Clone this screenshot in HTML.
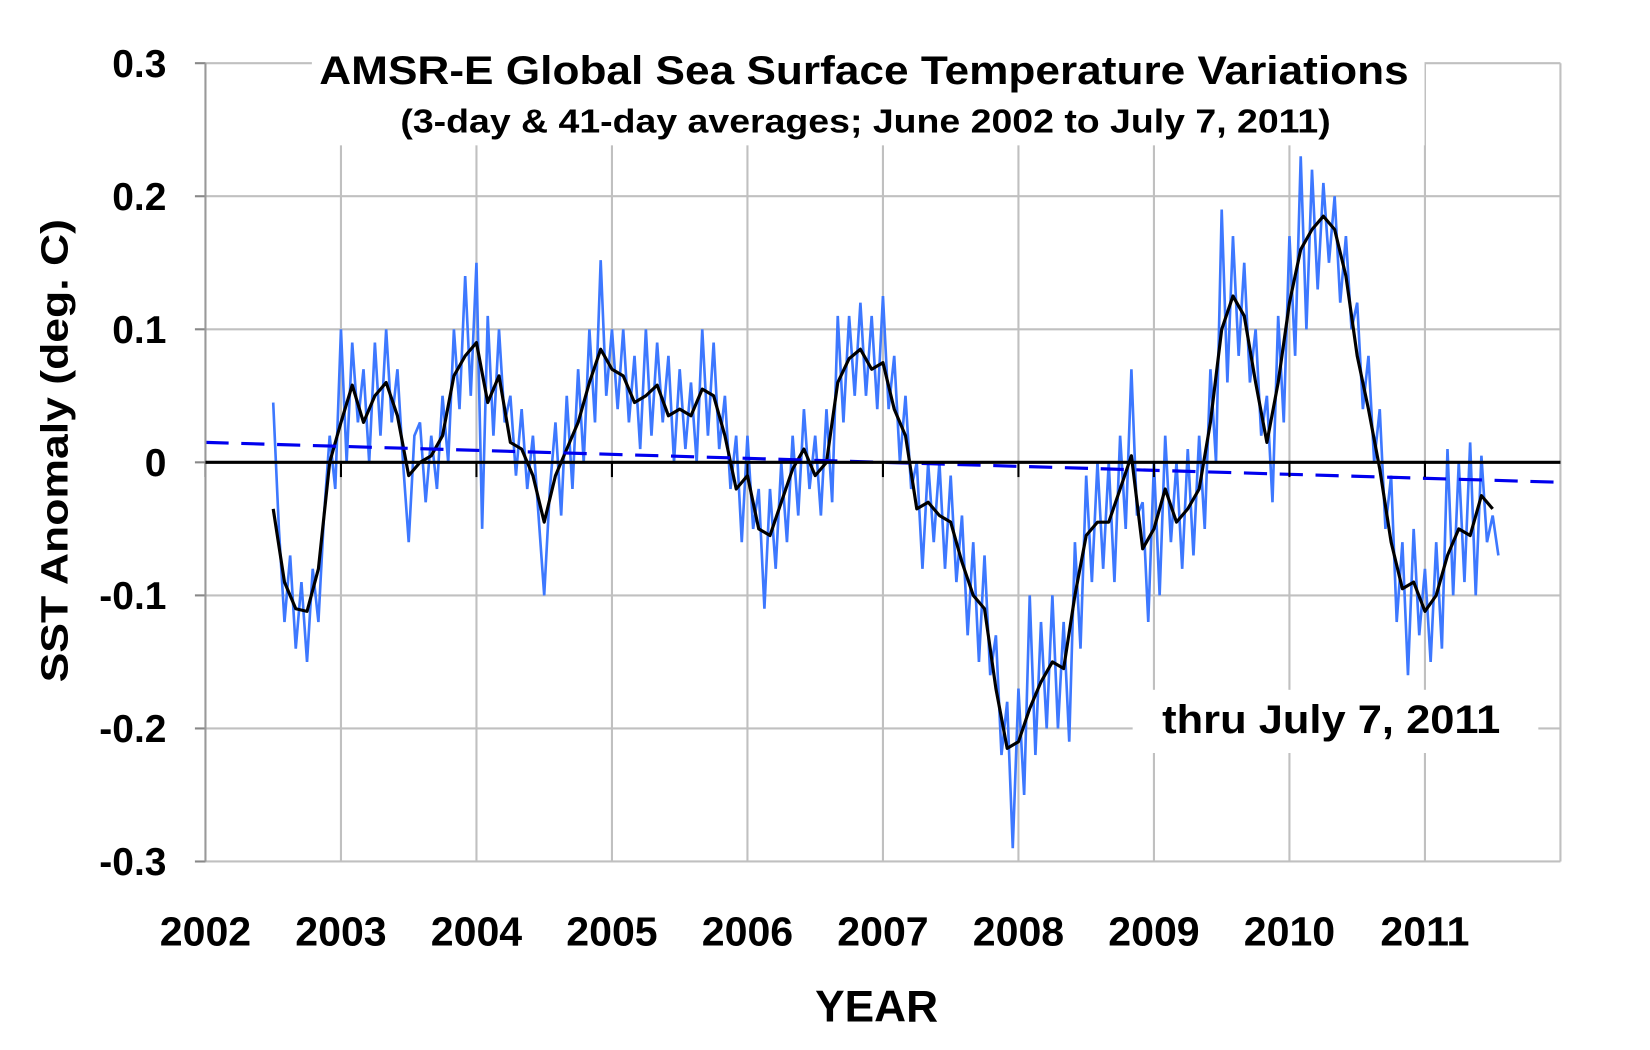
<!DOCTYPE html>
<html><head><meta charset="utf-8"><style>
html,body{margin:0;padding:0;background:#fff;}
svg{display:block;font-family:"Liberation Sans",Arial,sans-serif;font-weight:bold;}
</style></head><body>
<svg id="chart" width="1650" height="1050" viewBox="0 0 1566 997" preserveAspectRatio="none" xmlns="http://www.w3.org/2000/svg">
<g id="grid"></g>
<g id="series"></g>
<g id="axes"></g>
<rect x="296" y="38" width="1056" height="100" fill="#fff"/>
<text x="303" y="80" font-size="38" textLength="1034" lengthAdjust="spacingAndGlyphs">AMSR-E Global Sea Surface Temperature Variations</text>
<text x="380" y="126" font-size="32" textLength="883" lengthAdjust="spacingAndGlyphs">(3-day &amp; 41-day averages; June 2002 to July 7, 2011)</text>
<rect x="1075" y="655" width="385" height="60" fill="#fff"/>
<text x="1103" y="696" font-size="38" textLength="321" lengthAdjust="spacingAndGlyphs">thru July 7, 2011</text>
<text transform="translate(64,428) rotate(-90)" font-size="36" text-anchor="middle" textLength="440" lengthAdjust="spacingAndGlyphs">SST Anomaly (deg. C)</text>
<text x="832" y="970" font-size="42" text-anchor="middle">YEAR</text>
</svg>
<script>
const yTicks=[0.3,0.2,0.1,0,-0.1,-0.2,-0.3];
const yTickLabels=["0.3","0.2","0.1","0","-0.1","-0.2","-0.3"];
const xTicks=[2002,2003,2004,2005,2006,2007,2008,2009,2010,2011];
const xTickLabels=["2002","2003","2004","2005","2006","2007","2008","2009","2010","2011"];
const smoothStart=2002.5;
const smooth41=[-0.035,-0.09,-0.11,-0.112,-0.08,0.0,
0.03,0.058,0.03,0.05,0.06,0.035,-0.01,0.0,0.005,0.02,0.065,0.08,
0.09,0.045,0.065,0.015,0.01,-0.01,-0.045,-0.01,0.01,0.03,0.06,0.085,
0.07,0.065,0.045,0.05,0.058,0.035,0.04,0.035,0.055,0.05,0.02,-0.02,
-0.01,-0.05,-0.055,-0.03,-0.005,0.01,-0.01,0.0,0.06,0.078,0.085,0.07,
0.075,0.04,0.02,-0.035,-0.03,-0.04,-0.045,-0.075,-0.1,-0.11,-0.17,-0.215,
-0.21,-0.185,-0.165,-0.15,-0.155,-0.1,-0.055,-0.045,-0.045,-0.02,0.005,-0.065,
-0.05,-0.02,-0.045,-0.035,-0.02,0.03,0.1,0.125,0.11,0.06,0.015,0.06,
0.12,0.16,0.175,0.185,0.175,0.14,0.08,0.04,-0.005,-0.06,-0.095,-0.09,
-0.112,-0.1,-0.07,-0.05,-0.055,-0.025,-0.035];
const daily3=[0.045,-0.05,-0.12,-0.07,-0.14,-0.09,-0.15,-0.08,-0.12,-0.04,0.02,-0.02,
0.1,0.0,0.09,0.03,0.07,0.0,0.09,0.02,0.1,0.03,0.07,0.0,-0.06,0.02,0.03,-0.03,0.02,-0.02,0.05,0.0,0.1,0.04,0.14,0.05,
0.15,-0.05,0.11,0.02,0.1,0.03,0.05,-0.01,0.04,-0.02,0.02,-0.04,-0.1,-0.02,0.03,-0.04,0.05,-0.02,0.07,0.0,0.1,0.03,0.152,0.05,
0.1,0.04,0.1,0.03,0.08,0.01,0.1,0.02,0.09,0.03,0.08,0.0,0.07,0.01,0.06,0.0,0.1,0.02,0.09,0.01,0.05,-0.02,0.02,-0.06,
0.02,-0.05,-0.02,-0.11,-0.02,-0.08,0.0,-0.06,0.02,-0.04,0.04,-0.02,0.02,-0.04,0.04,-0.03,0.11,0.03,0.11,0.05,0.12,0.05,0.11,0.04,
0.125,0.04,0.08,0.0,0.05,-0.02,0.0,-0.08,0.0,-0.06,0.0,-0.08,-0.01,-0.09,-0.04,-0.13,-0.06,-0.15,-0.07,-0.16,-0.13,-0.22,-0.18,-0.29,
-0.17,-0.25,-0.1,-0.22,-0.12,-0.2,-0.1,-0.2,-0.12,-0.21,-0.06,-0.14,-0.01,-0.09,0.0,-0.08,0.0,-0.09,0.02,-0.05,0.07,-0.04,-0.03,-0.12,
0.0,-0.1,0.02,-0.06,0.0,-0.08,0.01,-0.07,0.02,-0.05,0.07,0.0,0.19,0.06,0.17,0.08,0.15,0.06,0.1,0.02,0.05,-0.03,0.11,0.03,
0.17,0.08,0.23,0.1,0.22,0.13,0.21,0.15,0.2,0.12,0.17,0.1,0.12,0.04,0.08,0.0,0.04,-0.05,-0.01,-0.12,-0.06,-0.16,-0.05,-0.13,
-0.08,-0.15,-0.06,-0.14,0.01,-0.1,0.0,-0.09,0.015,-0.1,0.005,-0.06,-0.04,-0.07];
const trendYears=[2002,2012];
const trendValues=[0.015,-0.015];

const NS="http://www.w3.org/2000/svg";
const L=195,R=1481,T=60,B=818;
function xs(v){return L+(v-2002)/10*(R-L);}
function ys(v){return T+(0.3-v)/0.6*(B-T);}
function mk(tag,attrs,parent){const e=document.createElementNS(NS,tag);for(const k in attrs)e.setAttribute(k,attrs[k]);parent.appendChild(e);return e;}
const grid=document.getElementById('grid'),series=document.getElementById('series'),axes=document.getElementById('axes');
yTicks.forEach((v,i)=>{
  if(v!==0){const g=mk('line',{x1:L,x2:R,y1:ys(v),y2:ys(v),stroke:'#c0c0c0','stroke-width':2},grid);
  
  }
  const t=mk('line',{x1:L-10,x2:L,y1:ys(v),y2:ys(v),stroke:'#888','stroke-width':2},axes);
  
  
  const lb=mk('text',{x:158,y:ys(v)+13,'font-size':37,'text-anchor':'end'},axes);lb.textContent=yTickLabels[i];
  
  
});
xTicks.forEach((v,i)=>{
  if(i>0){const g=mk('line',{x1:xs(v),x2:xs(v),y1:T,y2:B,stroke:'#c0c0c0','stroke-width':2},grid);
  
  }
  const t=mk('line',{x1:xs(v),x2:xs(v),y1:ys(0),y2:ys(0)+14,stroke:'#000','stroke-width':2},axes);
  
  
  const lb=mk('text',{x:xs(v),y:898,'font-size':39,'text-anchor':'middle'},axes);lb.textContent=xTickLabels[i];
  
  
});
const rg=mk('line',{x1:R,x2:R,y1:T,y2:B,stroke:'#c0c0c0','stroke-width':2},grid);


const la=mk('line',{x1:L,x2:L,y1:T,y2:B,stroke:'#999','stroke-width':2},axes);


const za=mk('line',{x1:L,x2:R,y1:ys(0),y2:ys(0),stroke:'#000','stroke-width':3},axes);


let p='';daily3.forEach((v,i)=>{p+=(i?'L':'M')+xs(smoothStart+i/24).toFixed(1)+','+ys(v).toFixed(1);});
const bl=mk('path',{d:p,fill:'none',stroke:'#3d78ff','stroke-width':2.5},series);


p='';smooth41.forEach((v,i)=>{p+=(i?'L':'M')+xs(smoothStart+i/12).toFixed(1)+','+ys(v).toFixed(1);});
const kl=mk('path',{d:p,fill:'none',stroke:'#000','stroke-width':3,'stroke-linejoin':'round'},series);


const tl=mk('line',{x1:xs(trendYears[0]),x2:xs(trendYears[1]),y1:ys(trendValues[0]),y2:ys(trendValues[1]),stroke:'#0000ee','stroke-width':3,'stroke-dasharray':'22,12'},series);


</script>
</body></html>
